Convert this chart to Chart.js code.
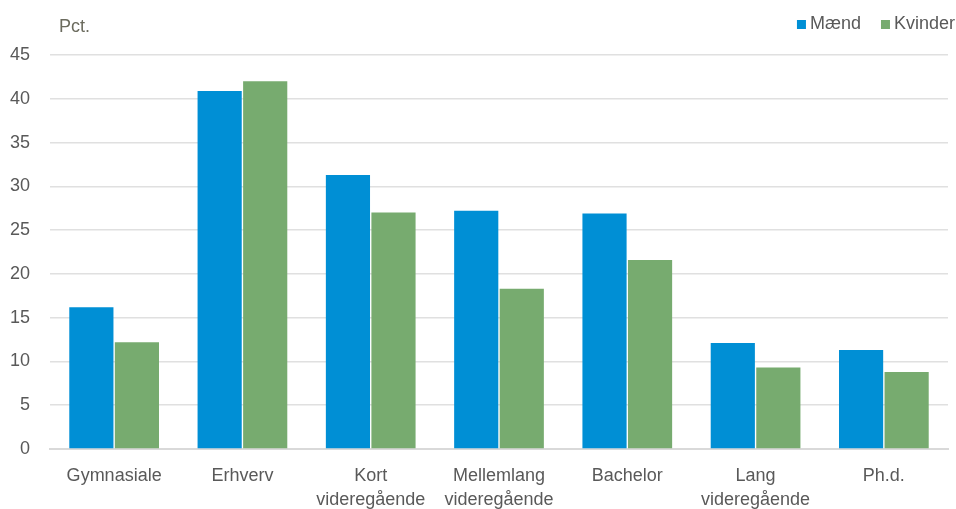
<!DOCTYPE html>
<html>
<head>
<meta charset="utf-8">
<script src="https://cdn.jsdelivr.net/npm/chart.js@4.4.1/dist/chart.umd.min.js"></script>
<style>
  html, body { margin: 0; padding: 0; background: #fff; overflow: hidden; }
  #wrap { width: 956px; height: 516px; }
</style>
</head>
<body>
<div id="wrap"><canvas id="chart"></canvas></div>
<script>
// Data
const categories = ['Gymnasiale', 'Erhverv', ['Kort', 'videregående'], ['Mellemlang', 'videregående'], 'Bachelor', ['Lang', 'videregående'], 'Ph.d.'];
const maend = [16.2, 40.9, 31.3, 27.2, 26.9, 12.1, 11.3];
const kvinder = [12.2, 42.0, 27.0, 18.3, 21.6, 9.3, 8.8];
const yTicks = [0, 5, 10, 15, 20, 25, 30, 35, 40, 45];

const FONT = "'Liberation Sans', Arial, sans-serif";
const textColor = '#595959';

// "Pct." over the y axis + legend top right
const extras = {
  id: 'extras',
  afterDraw(chart) {
    const ctx = chart.ctx;
    ctx.save();
    ctx.font = '18px ' + FONT;
    ctx.textBaseline = 'middle';
    ctx.textAlign = 'left';
    ctx.fillStyle = '#6b6b5e';
    ctx.fillText('Pct.', 59, 27);

    // legend, right aligned to the canvas edge
    const sets = chart.data.datasets;
    let x = chart.width - 1;
    for (let i = sets.length - 1; i >= 0; i--) {
      const w = ctx.measureText(sets[i].label).width;
      x -= w;
      ctx.fillStyle = textColor;
      ctx.fillText(sets[i].label, x, 24);
      x -= 13;
      ctx.fillStyle = sets[i].backgroundColor;
      ctx.fillRect(x, 20, 9, 9);
      x -= 20;
    }
    ctx.restore();
  }
};

new Chart(document.getElementById('chart'), {
  type: 'bar',
  data: {
    labels: categories,
    datasets: [
      { label: 'Mænd', data: maend, backgroundColor: '#008fd5' },
      { label: 'Kvinder', data: kvinder, backgroundColor: '#77ab6f' }
    ]
  },
  options: {
    responsive: true,
    maintainAspectRatio: false,
    animation: false,
    datasets: { bar: { categoryPercentage: 0.71, barPercentage: 0.97 } },
    layout: { padding: { left: 10, right: 8, top: 55, bottom: 0 } },
    plugins: {
      legend: { display: false },
      tooltip: { enabled: false }
    },
    scales: {
      x: {
        afterFit(axis) { axis.height = 67; },
        grid: { display: false },
        border: { color: '#d9d9d9', width: 2 },
        ticks: { color: textColor, font: { family: FONT, size: 18, lineHeight: 1.35 }, maxRotation: 0, autoSkip: false, padding: 7 }
      },
      y: {
        min: 0, max: 45,
        afterBuildTicks(axis) { axis.ticks = yTicks.map(v => ({ value: v })); },
        afterFit(axis) { axis.width = 40; },
        grid: { color: '#e0e0e0', lineWidth: 1.5, drawTicks: false },
        border: { display: false },
        ticks: { color: textColor, font: { family: FONT, size: 18 }, padding: 20 }
      }
    }
  },
  plugins: [extras]
});
</script>
</body>
</html>
